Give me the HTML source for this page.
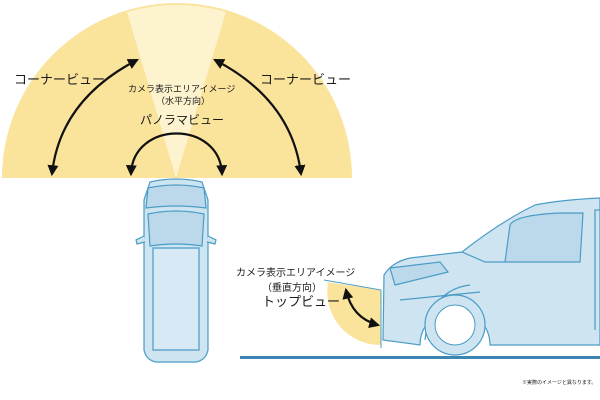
<!DOCTYPE html>
<html><head><meta charset="utf-8"><style>
html,body{margin:0;padding:0;background:#fff;}
svg{display:block;}
text{font-family:"Liberation Sans","Noto Sans CJK JP",sans-serif;fill:#1a1a1a;}
</style></head><body>
<svg width="600" height="400" viewBox="0 0 600 400" xmlns="http://www.w3.org/2000/svg">
<defs>
<marker id="ah" viewBox="0 0 10 10" refX="8" refY="5" markerWidth="5" markerHeight="5" orient="auto-start-reverse"><path d="M0,0 L10,5 L0,10 z" fill="#111"/></marker>
</defs>
<!-- semicircle -->
<path d="M2,178 A175,175 0 0 1 352,178 Z" fill="#fae39b"/>
<path d="M127,12 L176,178 L226,12 A175,175 0 0 0 127,12 Z" fill="#fdf3cf"/>
<!-- arrows -->
<g fill="none" stroke="#111" stroke-width="2.2">
<path d="M137,60 Q60,100 52,174" marker-start="url(#ah)" marker-end="url(#ah)"/>
<path d="M215,60 Q292,100 301,174" marker-start="url(#ah)" marker-end="url(#ah)"/>
<path d="M131,174 C133,120 220,120 222,174" marker-start="url(#ah)" marker-end="url(#ah)"/>
</g>
<text x="14" y="84" font-size="13">コーナービュー</text>
<text x="260" y="84" font-size="13">コーナービュー</text>
<text x="128" y="92" font-size="9">カメラ表示エリアイメージ</text>
<text x="156" y="104" font-size="9">（水平方向）</text>
<text x="140" y="124" font-size="12">パノラマビュー</text>
<!-- top car -->
<g stroke="#4a9cc6" stroke-width="1.2" fill="#cfe4f1">
<path d="M150,182 Q176,176 202,182 L208,200 L208,350 Q206,360 196,362 L156,362 Q146,360 144,350 L144,200 Z"/>
<path d="M148,188 Q176,182 204,188 L206,208 Q176,204 146,208 Z" fill="#bcd9ec"/>
<path d="M148,214 Q176,208 204,214 L202,246 Q176,242 150,246 Z" fill="#bcd9ec"/>
<path d="M153,248 L199,248 L199,350 L153,350 Z" fill="#d6e9f4"/>
<path d="M144,236 L136,240 L137,244 L145,242" />
<path d="M208,236 L216,240 L215,244 L207,242" />
</g>
<!-- side car -->
<g stroke="#4a9cc6" stroke-width="1.2" fill="#cfe4f1">
<path d="M383,340 L384,275 Q392,262 410,258 L462,252 Q500,222 535,205 Q560,200 600,198 L600,345 L490,345 A35,35 0 0 0 420,345 Z"/>
<path d="M600,210 L595,210 L595,330" fill="none"/>
<path d="M510,225 Q515,215 560,213 L583,213 L580,262 L505,262 Z" fill="#bcd9ec"/>
<path d="M462,252 L485,262 L505,262" fill="none"/>
<path d="M390,268 L440,262 L448,272 L395,285 Z" fill="#bcd9ec"/>
<path d="M400,300 L480,292 M425,340 Q430,290 470,285" fill="none"/>
</g>
<circle cx="455" cy="325" r="30" fill="#cfe4f1" stroke="#4a9cc6" stroke-width="1.2"/>
<circle cx="455" cy="325" r="20" fill="#fff" stroke="#4a9cc6" stroke-width="1"/>
<!-- side yellow -->
<path d="M326,282 L381,290 L381,345 A53,53 0 0 1 328,283 Z" fill="#fae39b"/>
<path d="M324,280 L381,290 L381,348" fill="none" stroke="#4a9cc6" stroke-width="1"/>
<path d="M346,290 Q352,318 378,325" fill="none" stroke="#111" stroke-width="2.2" marker-start="url(#ah)" marker-end="url(#ah)"/>
<text x="236" y="276" font-size="10">カメラ表示エリアイメージ</text>
<text x="262" y="291" font-size="10">（垂直方向）</text>
<text x="262" y="306" font-size="13">トップビュー</text>
<!-- ground -->
<rect x="240" y="356" width="360" height="3" fill="#3d86b3"/>
<text x="522" y="384" font-size="5" fill="#555">※実際のイメージと異なります。</text>
</svg>
</body></html>
